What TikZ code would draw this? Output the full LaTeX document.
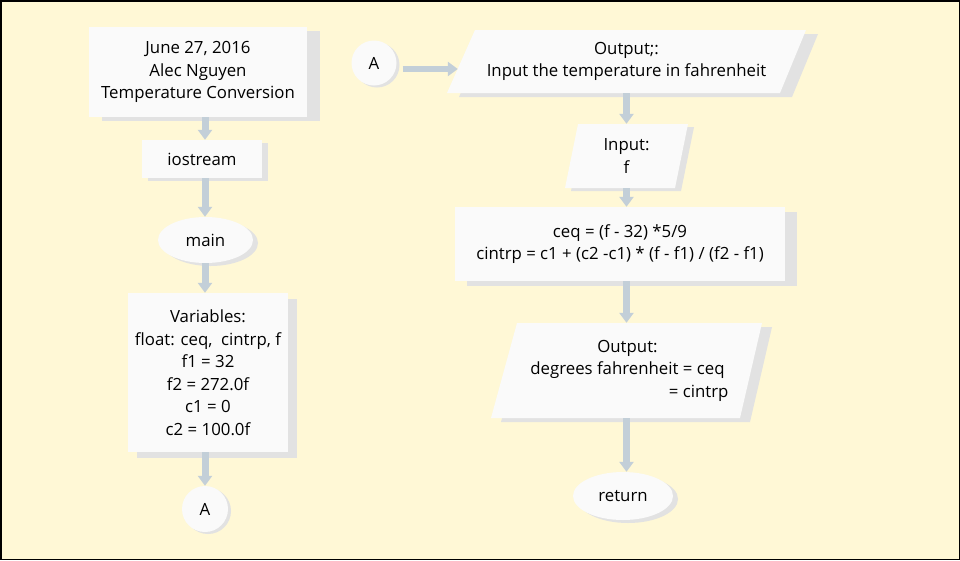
\documentclass[tikz,border=0pt]{standalone}
\usepackage{fontspec}
\setmainfont{Open Sans}
\usetikzlibrary{arrows.meta,shapes.geometric,shadows}
\definecolor{bgc}{RGB}{255,248,214}
\definecolor{boxc}{RGB}{250,250,250}
\definecolor{shc}{RGB}{226,226,226}
\definecolor{arc}{RGB}{195,207,216}
\newcommand\fs{\fontsize{16.8}{22.5}\selectfont}
\tikzset{
  box/.style={rectangle, fill=boxc, inner sep=0pt, align=center, font=\fs},
  oval/.style={ellipse, fill=boxc, inner sep=0pt, align=center, font=\fs},
  conn/.style={circle, fill=boxc, inner sep=0pt, font=\fs},
  txt/.style={inner sep=0pt, align=center, font=\fs},
  sh/.style 2 args={drop shadow={shadow xshift=#1pt, shadow yshift=-#2pt, fill=shc, opacity=1}},
  arr/.style={draw=arc, line width=7pt, -{Triangle[width=14pt,length=10pt]}},
  para/.style={fill=boxc},
  parash/.style={fill=shc}
}
\begin{document}
\begin{tikzpicture}[x=1pt,y=-1pt]
\fill[bgc] (0,0) rectangle (960,560);
\useasboundingbox (0,0) rectangle (960,560);
\draw[line width=1.5pt] (0.75,0.75) rectangle (959.25,559.25);

% left column
\node[box, sh={13}{4}, minimum width=218pt, minimum height=90pt] (title) at (198,72)
  {June 27, 2016\\Alec Nguyen\\Temperature Conversion};
\node[box, sh={6}{3}, minimum width=120pt, minimum height=38pt] (io) at (202,159) {iostream};
\node[oval, sh={5}{3}, minimum width=95pt, minimum height=46pt] (main) at (205.5,240) {main};
\node[box, sh={9}{6}, minimum width=160pt, minimum height=159pt] (vars) at (208,372.5)
  {Variables:\\float: ceq,\ \ cintrp, f\\f1 = 32\\f2 = 272.0f\\c1 = 0\\c2 = 100.0f};
\node[conn, sh={3}{2}, minimum size=46pt] (A1) at (205,509) {A};

% right column shapes
\fill[parash, shift={(12,4)}] (475,30) -- (806,30) -- (780,93) -- (447,93) -- cycle;
\fill[para] (475,30) -- (806,30) -- (780,93) -- (447,93) -- cycle;
\fill[parash, shift={(6,3)}] (578,124) -- (688,124) -- (675,188) -- (565,188) -- cycle;
\fill[para] (578,124) -- (688,124) -- (675,188) -- (565,188) -- cycle;
\fill[parash, shift={(10,4)}] (517,323) -- (762,323) -- (740,418) -- (491,418) -- cycle;
\fill[para] (517,323) -- (762,323) -- (740,418) -- (491,418) -- cycle;

\node[conn, sh={3}{2}, minimum size=45pt] (A2) at (374,63) {A};
\node[txt, minimum width=331pt, minimum height=63pt] (out1) at (626.5,61.5)
  {Output;:\\Input the temperature in fahrenheit};
\node[txt, minimum height=64pt] (inp) at (626.5,156) {Input:\\f};
\node[box, sh={12}{5}, minimum width=330pt, minimum height=74pt] (ceq) at (620,244)
  {ceq = (f - 32) *5/9\\cintrp = c1 + (c2 -c1) * (f - f1) / (f2 - f1)};
\node[txt, minimum height=95pt] (out2) at (627.5,370.5)
  {Output:\\degrees fahrenheit = ceq\\\makebox[202pt][r]{= cintrp}};
\node[oval, sh={5}{3}, minimum width=100pt, minimum height=48pt] (ret) at (623,496) {return};

% connectors
\draw[arr] (title.south -| A1) -- (io.north -| A1);
\draw[arr] (io.south -| A1) -- (main.north -| A1);
\draw[arr] (main.south -| A1) -- (vars.north -| A1);
\draw[arr] (vars.south -| A1) -- (A1.north);
\draw[arr, line width=6pt] ([xshift=6pt,yshift=-6pt]A2.east) -- ([xshift=-3pt,yshift=-6pt]A2.east -| out1.west);
\draw[arr] (out1.south -| inp) -- (inp.north);
\draw[arr] (inp.south) -- (ceq.north -| inp);
\draw[arr] (ceq.south -| inp) -- (out2.north -| inp);
\draw[arr] (out2.south -| inp) -- (ret.north -| inp);
\end{tikzpicture}
\end{document}
